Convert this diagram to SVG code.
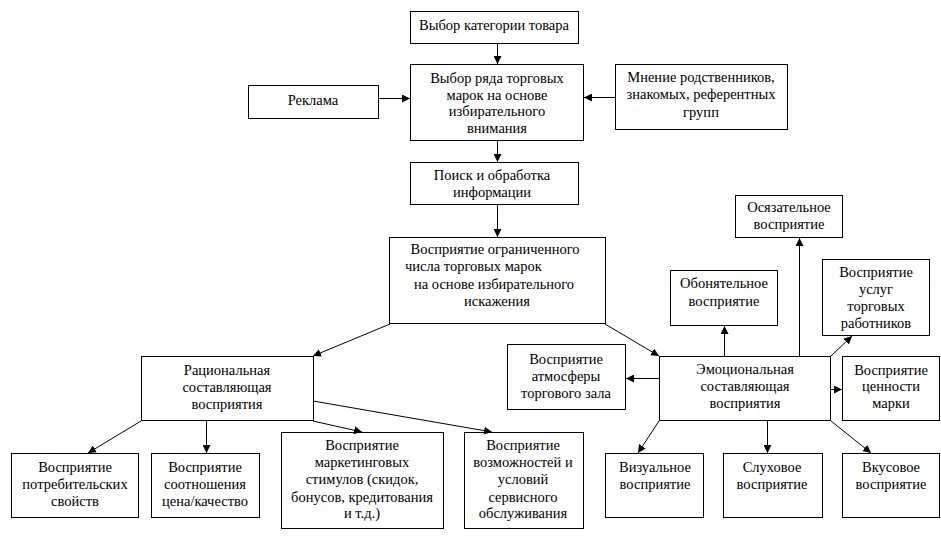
<svg xmlns="http://www.w3.org/2000/svg" width="941" height="552" viewBox="0 0 941 552">
<defs>
<marker id="ah" markerWidth="9" markerHeight="8" refX="8" refY="4" orient="auto" markerUnits="userSpaceOnUse">
<path d="M0,0 L8,4 L0,8 z" fill="#000"/>
</marker>
</defs>
<style>
text{font-size:14.5px;fill:#000;text-anchor:middle}
.b{fill:#fff;stroke:#000;stroke-width:1}
text.s{text-anchor:start}
.c line{stroke:#000;stroke-width:1;marker-end:url(#ah)}
</style>
<rect width="941" height="552" fill="#fff"/>
<g id="n1"><rect class="b" x="410.5" y="11.5" width="168" height="32"/><text font-family="Liberation Serif" x="494" y="30">Выбор категории товара</text></g>
<g id="n2"><rect class="b" x="410.5" y="64.5" width="173" height="76"/><text font-family="Liberation Serif" x="497" y="83">Выбор ряда торговых</text><text font-family="Liberation Serif" x="497" y="100">марок на основе</text><text font-family="Liberation Serif" x="497" y="116">избирательного</text><text font-family="Liberation Serif" x="497" y="133">внимания</text></g>
<g id="n3"><rect class="b" x="248.5" y="85.5" width="130" height="33"/><text font-family="Liberation Serif" x="313" y="105">Реклама</text></g>
<g id="n4"><rect class="b" x="615.5" y="64.5" width="172" height="65"/><text font-family="Liberation Serif" x="701" y="82">Мнение родственников,</text><text font-family="Liberation Serif" x="701" y="99">знакомых, референтных</text><text font-family="Liberation Serif" x="701" y="117">групп</text></g>
<g id="n5"><rect class="b" x="410.5" y="162.5" width="168" height="42"/><text font-family="Liberation Serif" x="492" y="180">Поиск и обработка</text><text font-family="Liberation Serif" x="492" y="197">информации</text></g>
<g id="n6"><rect class="b" x="389.5" y="237.5" width="216" height="86"/><text font-family="Liberation Serif" x="495" y="254">Восприятие ограниченного</text><text font-family="Liberation Serif" class="s" x="405" y="271">числа торговых марок</text><text font-family="Liberation Serif" class="s" x="414" y="289">на основе избирательного</text><text font-family="Liberation Serif" x="497" y="306">искажения</text></g>
<g id="n7"><rect class="b" x="141.5" y="356.5" width="172" height="64"/><text font-family="Liberation Serif" x="227" y="375">Рациональная</text><text font-family="Liberation Serif" x="227" y="392">составляющая</text><text font-family="Liberation Serif" x="227" y="409">восприятия</text></g>
<g id="n8"><rect class="b" x="659.5" y="356.5" width="171" height="64"/><text font-family="Liberation Serif" x="745" y="374">Эмоциональная</text><text font-family="Liberation Serif" x="745" y="391">составляющая</text><text font-family="Liberation Serif" x="745" y="408">восприятия</text></g>
<g id="n9"><rect class="b" x="507.5" y="344.5" width="118" height="65"/><text font-family="Liberation Serif" x="566" y="364">Восприятие</text><text font-family="Liberation Serif" x="566" y="381">атмосферы</text><text font-family="Liberation Serif" x="566" y="398">торгового зала</text></g>
<g id="n10"><rect class="b" x="670.5" y="270.5" width="107" height="55"/><text font-family="Liberation Serif" x="724" y="288">Обонятельное</text><text font-family="Liberation Serif" x="724" y="306">восприятие</text></g>
<g id="n11"><rect class="b" x="735.5" y="195.5" width="107" height="42"/><text font-family="Liberation Serif" x="789" y="212">Осязательное</text><text font-family="Liberation Serif" x="789" y="229">восприятие</text></g>
<g id="n12"><rect class="b" x="822.5" y="259.5" width="107" height="76"/><text font-family="Liberation Serif" x="876" y="277">Восприятие</text><text font-family="Liberation Serif" x="876" y="294">услуг</text><text font-family="Liberation Serif" x="876" y="311">торговых</text><text font-family="Liberation Serif" x="876" y="328">работников</text></g>
<g id="n13"><rect class="b" x="842.5" y="356.5" width="97" height="64"/><text font-family="Liberation Serif" x="891" y="375">Восприятие</text><text font-family="Liberation Serif" x="891" y="391">ценности</text><text font-family="Liberation Serif" x="891" y="408">марки</text></g>
<g id="n14"><rect class="b" x="605.5" y="453.5" width="98" height="64"/><text font-family="Liberation Serif" x="655" y="472">Визуальное</text><text font-family="Liberation Serif" x="655" y="489">восприятие</text></g>
<g id="n15"><rect class="b" x="723.5" y="453.5" width="99" height="64"/><text font-family="Liberation Serif" x="772" y="472">Слуховое</text><text font-family="Liberation Serif" x="772" y="489">восприятие</text></g>
<g id="n16"><rect class="b" x="842.5" y="453.5" width="97" height="64"/><text font-family="Liberation Serif" x="891" y="472">Вкусовое</text><text font-family="Liberation Serif" x="891" y="489">восприятие</text></g>
<g id="n17"><rect class="b" x="11.5" y="453.5" width="127" height="64"/><text font-family="Liberation Serif" x="75" y="472">Восприятие</text><text font-family="Liberation Serif" x="75" y="489">потребительских</text><text font-family="Liberation Serif" x="75" y="506">свойств</text></g>
<g id="n18"><rect class="b" x="151.5" y="453.5" width="108" height="64"/><text font-family="Liberation Serif" x="205" y="472">Восприятие</text><text font-family="Liberation Serif" x="205" y="489">соотношения</text><text font-family="Liberation Serif" x="205" y="506">цена/качество</text></g>
<g id="n19"><rect class="b" x="281.5" y="432.5" width="162" height="96"/><text font-family="Liberation Serif" x="362" y="450">Восприятие</text><text font-family="Liberation Serif" x="362" y="467">маркетинговых</text><text font-family="Liberation Serif" x="362" y="484">стимулов (скидок,</text><text font-family="Liberation Serif" x="362" y="502">бонусов, кредитования</text><text font-family="Liberation Serif" x="362" y="518">и т.д.)</text></g>
<g id="n20"><rect class="b" x="464.5" y="432.5" width="119" height="96"/><text font-family="Liberation Serif" x="523" y="450">Восприятие</text><text font-family="Liberation Serif" x="523" y="467">возможностей и</text><text font-family="Liberation Serif" x="523" y="484">условий</text><text font-family="Liberation Serif" x="523" y="502">сервисного</text><text font-family="Liberation Serif" x="523" y="518">обслуживания</text></g>
<g id="connectors" class="c">
<line x1="497.5" y1="44" x2="497.5" y2="64"/>
<line x1="379" y1="98.5" x2="410" y2="98.5"/>
<line x1="615" y1="97.5" x2="584" y2="97.5"/>
<line x1="497.5" y1="141" x2="497.5" y2="162"/>
<line x1="497.5" y1="205" x2="497.5" y2="237"/>
<line x1="390" y1="324" x2="313" y2="356"/>
<line x1="605" y1="324" x2="659" y2="356"/>
<line x1="141" y1="421" x2="88" y2="453"/>
<line x1="206.5" y1="421" x2="206.5" y2="453"/>
<line x1="313" y1="421" x2="362" y2="432"/>
<line x1="313" y1="401" x2="492" y2="432"/>
<line x1="659" y1="378.5" x2="626" y2="378.5"/>
<line x1="831" y1="389.5" x2="842" y2="389.5"/>
<line x1="724.5" y1="356" x2="724.5" y2="326"/>
<line x1="799.5" y1="356" x2="799.5" y2="238"/>
<line x1="831" y1="356" x2="852" y2="336"/>
<line x1="659" y1="421" x2="638" y2="453"/>
<line x1="767.5" y1="421" x2="767.5" y2="453"/>
<line x1="831" y1="421" x2="871" y2="453"/>
</g>
</svg>
